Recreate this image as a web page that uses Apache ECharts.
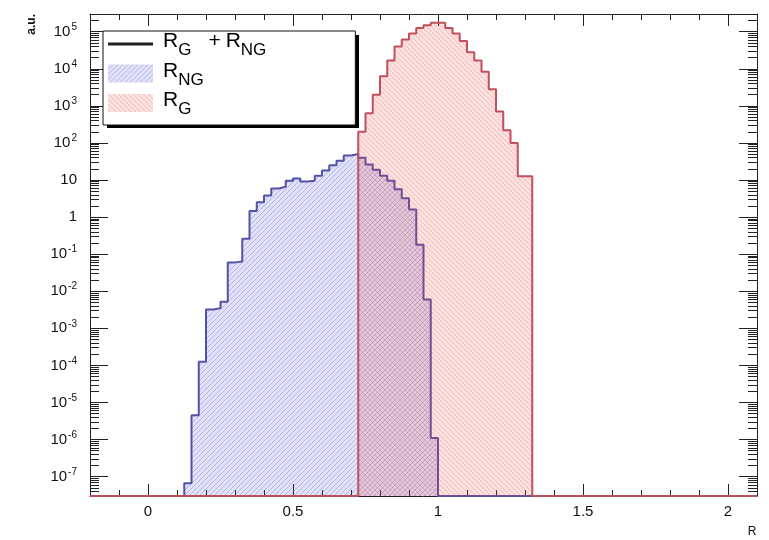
<!DOCTYPE html>
<html>
<head>
<meta charset="utf-8">
<script src="https://cdn.jsdelivr.net/npm/echarts@6/dist/echarts.min.js"></script>
<style>
  html, body { margin: 0; padding: 0; background: #fff; }
  #chart { width: 769px; height: 540px; }
</style>
</head>
<body>
<div id="chart"></div>
<script>
// ---- histogram binning in R ----
const binWidth = 0.025;
const rRange = [-0.2, 2.1];

// R_NG bin contents, first bin starts at ngFirstEdge
const ngFirstEdge = 0.125;
const ngCounts = [
  6.6e-8, 4.5e-6, 1.26e-4, 3.2e-3, 3.5e-3, 5.2e-3, 6.0e-2, 6.3e-2, 0.26, 1.45,
  2.5, 3.8, 5.9, 6.6, 9.5, 11, 9.1, 9.5, 13, 18,
  25, 33, 46, 50, 40, 26, 19, 13, 9.5, 5.6,
  3.2, 1.6, 0.18, 6e-3, 1.1e-6
];

// R_G bin contents, first bin starts at gFirstEdge
const gFirstEdge = 0.725;
const gCounts = [
  200, 630, 2000, 6300, 1.66e4, 4.0e4, 6.2e4, 8.9e4, 1.26e5, 1.5e5, 1.75e5, 1.75e5,
  1.26e5, 8.9e4, 5.6e4, 2.8e4, 1.66e4, 8300, 2800, 700, 220, 100, 12.6, 12.6
];

// ---- axes ----
const yRange = [3e-8, 3e5];
const xMajorTicks = [0, 0.5, 1, 1.5, 2];
const xMinorTicks = [-0.1, 0.1, 0.2, 0.3, 0.4, 0.6, 0.7, 0.8, 0.9, 1.1, 1.2, 1.3, 1.4, 1.6, 1.7, 1.8, 1.9];
const yMajorTicks = [1e-7, 1e-6, 1e-5, 1e-4, 1e-3, 1e-2, 1e-1, 1, 10, 100, 1e3, 1e4, 1e5];

// 2..9 sub-ticks inside every decade of the log axis
const yMinorTicks = [];
for (let k = -8; k <= 5; k++) {
  for (let m = 2; m <= 9; m++) {
    const v = m * Math.pow(10, k);
    if (v > yRange[0] && v < yRange[1]) yMinorTicks.push(v);
  }
}

const FONT = "'Liberation Sans', Arial, Helvetica, sans-serif";
const frameColor = '#222';
const ngLine = '#5252a6';
const gLine = '#c0505c';

// Hatched fills (one pixel wide diagonal stripes on a light tint)
function hatch(base, stripe, size, rising) {
  const c = document.createElement('canvas');
  c.width = size; c.height = size;
  const g = c.getContext('2d');
  for (let y = 0; y < size; y++) {
    for (let x = 0; x < size; x++) {
      const onStripe = rising ? ((x + y) % size === size - 1) : (x === y);
      g.fillStyle = onStripe ? stripe : base;
      g.fillRect(x, y, 1, 1);
    }
  }
  return { image: c, repeat: 'repeat' };
}
const ngFill = hatch('rgba(70,70,210,0.16)', 'rgba(70,70,190,0.40)', 5, true);
const gFill = hatch('rgba(235,70,70,0.16)', 'rgba(225,70,70,0.38)', 5, false);

// Step outline of a histogram: empty bins sit on the bottom of the log axis
function histogramPoints(firstEdge, counts) {
  const floor = yRange[0];
  const pts = [[rRange[0], floor]];
  counts.forEach((c, i) => pts.push([firstEdge + i * binWidth, Math.max(c, floor)]));
  pts.push([firstEdge + counts.length * binWidth, floor]);
  pts.push([rRange[1], floor]);
  return pts;
}

function xAxisDef(position, ticks, len, withLine, withLabels) {
  return {
    type: 'value', position: position, min: rRange[0], max: rRange[1],
    axisLine: { show: withLine, onZero: false, lineStyle: { color: frameColor, width: 1 } },
    axisTick: { show: true, inside: true, length: len, customValues: ticks,
                lineStyle: { color: frameColor, width: 1 } },
    axisLabel: withLabels
      ? { show: true, customValues: ticks, margin: 8, fontSize: 15, color: '#111', fontFamily: FONT }
      : { show: false },
    splitLine: { show: false }
  };
}

function yAxisDef(position, ticks, len, withLine, withLabels) {
  return {
    type: 'log', position: position, min: yRange[0], max: yRange[1], logBase: 10,
    axisLine: { show: withLine, onZero: false, lineStyle: { color: frameColor, width: 1 } },
    axisTick: { show: true, inside: true, length: len, customValues: ticks,
                lineStyle: { color: frameColor, width: 1 } },
    axisLabel: withLabels ? {
      show: true, customValues: ticks, margin: 13, fontSize: 15, color: '#111', fontFamily: FONT,
      formatter: function (v) {
        const e = Math.round(Math.log10(v));
        if (e === 0) return '1';
        if (e === 1) return '10';
        return '10{sup|' + e + '}';
      },
      rich: { sup: { fontSize: 10, fontFamily: FONT, color: '#111', padding: [0, 0, 9, 1] } }
    } : { show: false },
    splitLine: { show: false }
  };
}

const legendText = {
  'R_G + R_NG': '{sp|}{m|R}{s|G}{g1|}{m|+}{g2|}{m|R}{s|NG}',
  'R_NG': '{sp|}{m|R}{s|NG}',
  'R_G': '{sp|}{m|R}{s|G}'
};

// Legend box geometry (the drop shadow is a solid rectangle behind it)
const legendBox = { left: 103, top: 31, width: 252, height: 93 };

const chart = echarts.init(document.getElementById('chart'), null, { renderer: 'canvas' });
chart.setOption({
  animation: false,
  backgroundColor: '#fff',
  grid: { left: 90, right: 12, top: 14, bottom: 44, containLabel: false },
  xAxis: [
    Object.assign(xAxisDef('bottom', xMajorTicks, 12, true, true), {
      name: 'R', nameLocation: 'end', nameGap: -5,
      nameTextStyle: { fontSize: 12, fontFamily: FONT, color: '#111', align: 'center',
                       verticalAlign: 'top', padding: [30, 0, 0, 0] }
    }),
    xAxisDef('bottom', xMinorTicks, 6, false, false),
    xAxisDef('top', xMajorTicks, 12, true, false),
    xAxisDef('top', xMinorTicks, 6, false, false)
  ],
  yAxis: [
    yAxisDef('left', yMajorTicks, 18, true, true),
    yAxisDef('left', yMinorTicks, 9, false, false),
    yAxisDef('right', yMajorTicks, 18, true, false),
    yAxisDef('right', yMinorTicks, 9, false, false)
  ],
  graphic: [
    {
      type: 'text', x: 32, y: 14, rotation: Math.PI / 2,
      style: { text: 'a.u.', font: 'bold 12px ' + FONT, fill: '#111', align: 'right', verticalAlign: 'middle' }
    },
    {
      type: 'rect', z: 3, silent: true,
      shape: { x: legendBox.left + 4, y: legendBox.top + 4, width: legendBox.width, height: legendBox.height },
      style: { fill: '#000' }
    }
  ],
  legend: {
    orient: 'vertical', left: legendBox.left, top: legendBox.top, z: 5,
    itemWidth: 45, itemHeight: 18, itemGap: 1.5,
    padding: [0, 89, 7, 5],
    backgroundColor: '#fff', borderColor: '#111', borderWidth: 1,
    selectedMode: false,
    data: [
      { name: 'R_G + R_NG', icon: 'path://M0,0H30V2H0Z', itemStyle: { color: '#222', borderWidth: 0 } },
      { name: 'R_NG', icon: 'rect', itemStyle: { color: ngFill, borderWidth: 0 } },
      { name: 'R_G', icon: 'rect', itemStyle: { color: gFill, borderWidth: 0 } }
    ],
    formatter: function (name) { return legendText[name]; },
    textStyle: {
      rich: {
        sp: { width: 5 },
        g1: { width: 17 },
        g2: { width: 5 },
        m: { fontSize: 21, fontFamily: FONT, color: '#000', padding: [0, 0, 5, 0] },
        s: { fontSize: 17, fontFamily: FONT, color: '#000', padding: [13, 0, 0, 0] }
      }
    }
  },
  series: [
    {
      name: 'R_G + R_NG', type: 'line', data: [], symbol: 'none',
      lineStyle: { color: '#222', width: 2 }, itemStyle: { color: '#222' }
    },
    {
      name: 'R_NG', type: 'line', step: 'end', symbol: 'none', clip: false,
      data: histogramPoints(ngFirstEdge, ngCounts),
      lineStyle: { color: ngLine, width: 2 }, itemStyle: { color: ngLine },
      areaStyle: { color: ngFill, opacity: 1, origin: 'start' }, z: 2
    },
    {
      name: 'R_G', type: 'line', step: 'end', symbol: 'none', clip: false,
      data: histogramPoints(gFirstEdge, gCounts),
      lineStyle: { color: gLine, width: 2 }, itemStyle: { color: gLine },
      areaStyle: { color: gFill, opacity: 1, origin: 'start' }, z: 3
    }
  ]
});
</script>
</body>
</html>
